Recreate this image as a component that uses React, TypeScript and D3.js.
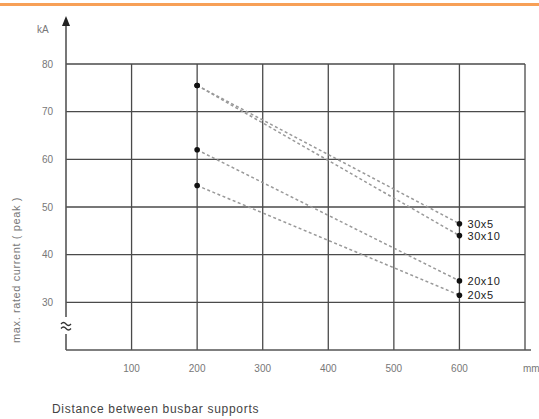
import React from "react";
import * as d3 from "d3";

const yTicks = [30, 40, 50, 60, 70, 80];
const xTicks = [100, 200, 300, 400, 500, 600];
const xGrid = [100, 200, 300, 400, 500, 600, 700];
const seriesNames = ["30x5", "30x10", "20x10", "20x5"];
const xStart = [200, 200, 200, 200];
const xEnd = [600, 600, 600, 600];
const yStart = [75.5, 75.5, 62, 54.5];
const yEnd = [46.5, 44, 34.5, 31.5];

const W = 539;
const H = 419;

export default function App() {
  const x = d3.scaleLinear().domain([0, 700]).range([66, 525]);
  const y = d3.scaleLinear().domain([20, 80]).range([350, 64]);
  const gridColor = "#4a4a4a";
  const line = d3
    .line<[number, number]>()
    .x((d) => x(d[0]))
    .y((d) => y(d[1]));
  const ax = x(0);

  return (
    <svg
      width={W}
      height={H}
      style={{ position: "absolute", left: 0, top: 0, background: "#fff" }}
      fontFamily="'Liberation Sans', Arial, sans-serif"
    >
      <rect x={0} y={3} width={W} height={3} fill="#f7a057" />
      {yTicks.map((t) => (
        <line
          key={"h" + t}
          x1={x(0)}
          x2={x(700)}
          y1={y(t)}
          y2={y(t)}
          stroke={gridColor}
          strokeWidth={1.3}
        />
      ))}
      {xGrid.map((t) => (
        <line
          key={"v" + t}
          x1={x(t)}
          x2={x(t)}
          y1={y(80)}
          y2={y(20)}
          stroke={gridColor}
          strokeWidth={1.3}
        />
      ))}
      <line x1={ax} x2={x(700) + 6} y1={y(20)} y2={y(20)} stroke="#555" strokeWidth={1.6} />
      <line x1={ax} x2={ax} y1={24} y2={317} stroke="#555" strokeWidth={1.6} />
      <line x1={ax} x2={ax} y1={334} y2={y(20)} stroke="#555" strokeWidth={1.6} />
      <path d={`M${ax - 4},${26} L${ax},${16} L${ax + 4},${26} Z`} fill="#222" />
      <path
        d={`M${ax - 5},${324} q2.5,-3 5,0 t5,0 M${ax - 5},${328.5} q2.5,-3 5,0 t5,0`}
        fill="none"
        stroke="#333"
        strokeWidth={1.3}
      />
      {yTicks.map((t) => (
        <text
          key={"yl" + t}
          x={53}
          y={y(t) + 3.5}
          fontSize={10}
          fill="#777"
          textAnchor="end"
        >
          {t}
        </text>
      ))}
      <text x={37} y={33} fontSize={10} fill="#777">
        kA
      </text>
      {xTicks.map((t) => (
        <text
          key={"xl" + t}
          x={x(t)}
          y={372}
          fontSize={10}
          fill="#777"
          textAnchor="middle"
        >
          {t}
        </text>
      ))}
      <text x={523} y={372} fontSize={10} fill="#777">
        mm
      </text>
      {seriesNames.map((n, i) => (
        <path
          key={"s" + n}
          d={line([
            [xStart[i], yStart[i]],
            [xEnd[i], yEnd[i]],
          ]) || ""}
          fill="none"
          stroke="#999"
          strokeWidth={1.5}
          strokeDasharray="3,2.5"
        />
      ))}
      {seriesNames.map((n, i) => (
        <g key={"p" + n}>
          <circle cx={x(xStart[i])} cy={y(yStart[i])} r={2.8} fill="#111" />
          <circle cx={x(xEnd[i])} cy={y(yEnd[i])} r={2.8} fill="#111" />
          <text
            x={x(xEnd[i]) + 8}
            y={y(yEnd[i]) + 4}
            fontSize={11}
            letterSpacing={0.6}
            fill="#222"
          >
            {n}
          </text>
        </g>
      ))}
      <text
        x={0}
        y={0}
        fontSize={11}
        letterSpacing={0.6}
        fill="#777"
        textAnchor="middle"
        transform={`translate(20,270) rotate(-90)`}
      >
        max. rated current ( peak )
      </text>
      <text x={52} y={413} fontSize={12} letterSpacing={0.7} fill="#444">
        Distance between busbar supports
      </text>
    </svg>
  );
}
